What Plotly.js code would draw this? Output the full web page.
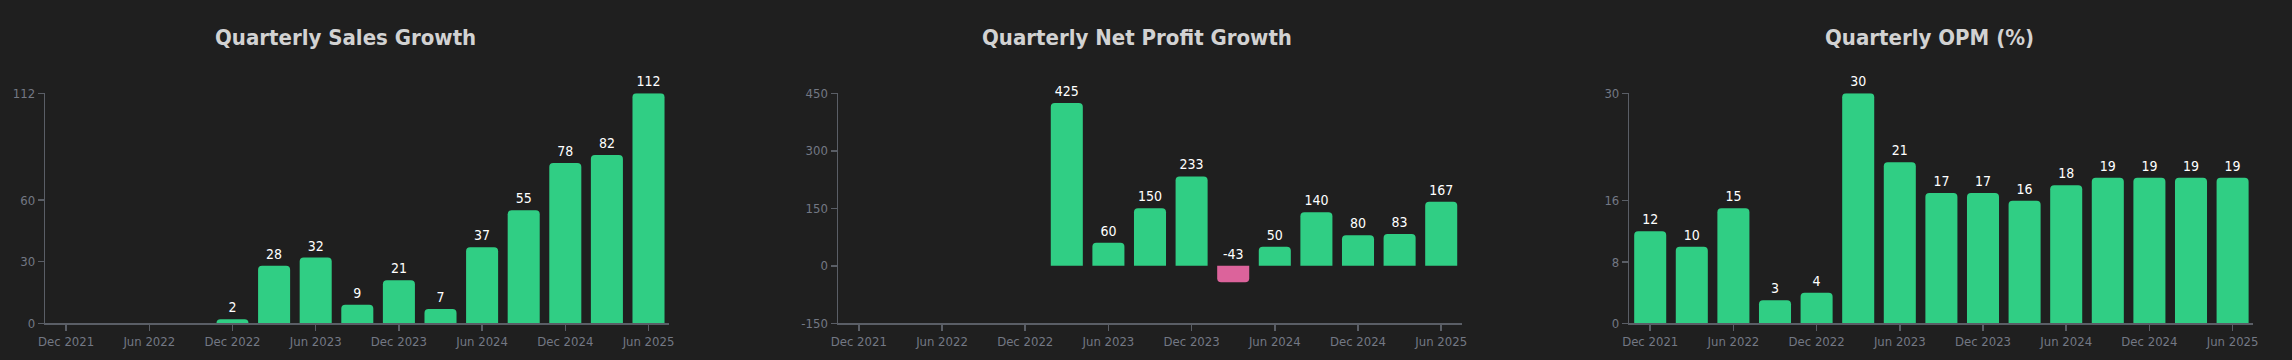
<!DOCTYPE html>
<html>
<head>
<meta charset="utf-8">
<script src="https://cdn.plot.ly/plotly-3.0.1.min.js"></script>
<style>
  html, body { margin: 0; padding: 0; background: #1f1f1f; }
  #chart { width: 2292px; height: 360px; }
</style>
</head>
<body>
<div id="chart"></div>
<script>
// ---- data ----
const quarters = ["Dec 2021","Mar 2022","Jun 2022","Sep 2022","Dec 2022","Mar 2023","Jun 2023","Sep 2023","Dec 2023","Mar 2024","Jun 2024","Sep 2024","Dec 2024","Mar 2025","Jun 2025"];
const tickLabels = ["Dec 2021","Jun 2022","Dec 2022","Jun 2023","Dec 2023","Jun 2024","Dec 2024","Jun 2025"];
const salesGrowth = [null,null,null,null,2,28,32,9,21,7,37,55,78,82,112];
const profitGrowth = [null,null,null,null,null,425,60,150,233,-43,50,140,80,83,167];
const opm = [12,10,15,3,4,30,21,17,17,16,18,19,19,19,19];
const titles = ["Quarterly Sales Growth","Quarterly Net Profit Growth","Quarterly OPM (%)"];
const salesTicks = [0,30,60,112];
const profitTicks = [-150,0,150,300,450];
const opmTicks = [0,8,16,30];

// ---- style ----
const W = 2292, H = 360;
const GREEN = "#30ce84", PINK = "#dc639b";
const FONT = "DejaVu Sans Condensed, DejaVu Sans, sans-serif";
const AXIS = "#5a5e66", TICKTXT = "#737884";

const series = [salesGrowth, profitGrowth, opm];
const yticks = [salesTicks, profitTicks, opmTicks];
const yranges = [[0,112],[-150,450],[0,30]];
const left = [45.3, 838, 1629.4];
const plotW = 624;
const titleX = [345.3, 1137.3, 1929];
const yTop = 93.3, yBot = 323.3;

const traces = [];
const layout = {
  width: W, height: H,
  margin: {l:0, r:0, t:0, b:0},
  paper_bgcolor: "#1f1f1f", plot_bgcolor: "#1f1f1f",
  showlegend: false,
  bargap: 0.23,
  font: {family: FONT, color: TICKTXT, size: 13},
  annotations: []
};

series.forEach((vals, i) => {
  const n = i === 0 ? "" : String(i + 1);
  const xa = "x" + n, ya = "y" + n;
  traces.push({
    type: "bar", x: quarters, y: vals, xaxis: xa, yaxis: ya,
    marker: {color: vals.map(v => (v !== null && v < 0) ? PINK : GREEN), cornerradius: 4, line: {width: 0}},
    hoverinfo: "skip"
  });
  traces.push({
    type: "scatter", mode: "markers+text", x: quarters,
    y: vals.map(v => v === null ? null : Math.max(v, 0)),
    text: vals.map(v => v === null ? "" : String(v)),
    textposition: "top center",
    marker: {size: 4, opacity: 0},
    textfont: {family: FONT, size: 14, color: "#ffffff"},
    cliponaxis: false, xaxis: xa, yaxis: ya, hoverinfo: "skip"
  });
  const d0 = left[i] / W, d1 = (left[i] + plotW) / W;
  layout["xaxis" + n] = {
    domain: [d0, d1], anchor: ya, type: "category",
    range: [-0.5, quarters.length - 0.5],
    tickvals: tickLabels, ticktext: tickLabels,
    showgrid: false, zeroline: false,
    showline: true, linecolor: AXIS, linewidth: 1.5,
    ticks: "outside", ticklen: 6, tickcolor: AXIS, tickwidth: 1.5,
    tickfont: {family: FONT, size: 13, color: TICKTXT},
    fixedrange: true
  };
  layout["yaxis" + n] = {
    domain: [(H - yBot) / H, (H - yTop) / H], anchor: xa,
    range: yranges[i], tickvals: yticks[i], ticktext: yticks[i].map(String),
    showgrid: false, zeroline: false,
    showline: true, linecolor: AXIS, linewidth: 1.5,
    ticks: "outside", ticklen: 6, tickcolor: AXIS, tickwidth: 1.5,
    tickfont: {family: FONT, size: 13, color: TICKTXT},
    fixedrange: true
  };
  layout.annotations.push({
    text: "<b>" + titles[i] + "</b>", xref: "paper", yref: "paper",
    x: titleX[i] / W, y: (H - 37.5) / H, xanchor: "center", yanchor: "middle",
    showarrow: false, font: {family: FONT, size: 22, color: "#d2d2d2"}
  });
});

Plotly.newPlot("chart", traces, layout, {displayModeBar: false, staticPlot: true});
</script>
</body>
</html>
